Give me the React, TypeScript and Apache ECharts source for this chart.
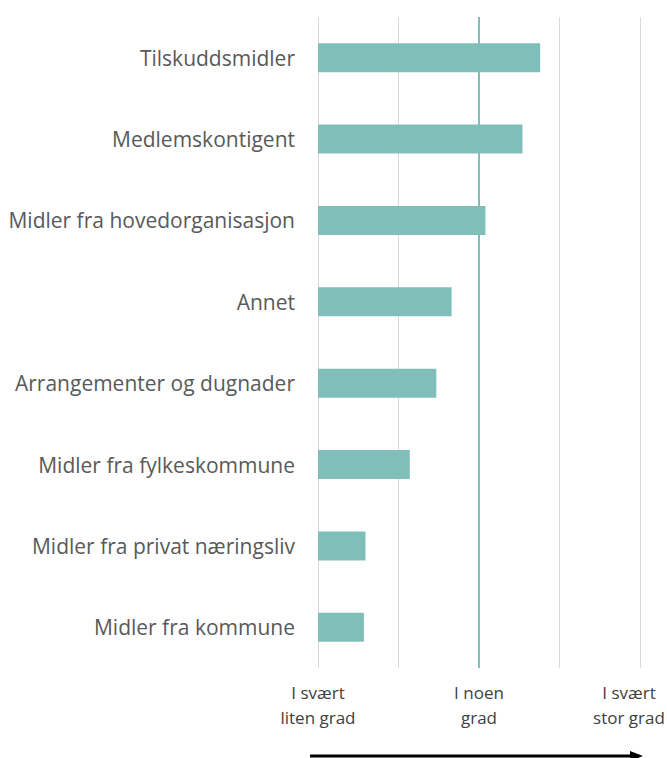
import React, { useEffect, useRef } from "react";
import * as echarts from "echarts";

const categories = [
  "Tilskuddsmidler",
  "Medlemskontigent",
  "Midler fra hovedorganisasjon",
  "Annet",
  "Arrangementer og dugnader",
  "Midler fra fylkeskommune",
  "Midler fra privat næringsliv",
  "Midler fra kommune",
];
const values = [3.76, 3.54, 3.08, 2.66, 2.47, 2.14, 1.59, 1.57];
const tickLabels: Record<number, string> = {
  1: "I svært\nliten grad",
  3: "I noen\ngrad",
  5: "I svært\nstor grad",
};
const referenceValue = 3;

export default function App() {
  const ref = useRef<HTMLDivElement>(null);
  useEffect(() => {
    if (!ref.current) return;
    const chart = echarts.init(ref.current, null, { renderer: "svg" });
    const font = "'Open Sans', sans-serif";
    chart.setOption({
      animation: false,
      backgroundColor: "#ffffff",
      grid: {
        left: 318,
        right: 27,
        top: 17,
        bottom: 90,
        containLabel: false,
        outerBoundsMode: "none",
      },
      xAxis: {
        type: "value",
        min: 1,
        max: 5,
        interval: 1,
        axisLine: { show: false },
        axisTick: { show: false },
        splitLine: { show: true, lineStyle: { color: "#d9d9d9", width: 1 } },
        axisLabel: {
          margin: 12,
          color: "#404040",
          fontFamily: font,
          fontSize: 17,
          lineHeight: 25,
          formatter: (v: number) => {
            const t = tickLabels[v];
            if (!t) return "";
            if (v === 5) return t.split("\n").map((l) => `{r|${l}}`).join("\n");
            return t;
          },
          rich: {
            r: {
              color: "#404040",
              fontFamily: font,
              fontSize: 17,
              lineHeight: 25,
              padding: [0, 22, 0, 0],
            },
          },
        },
      },
      yAxis: {
        type: "category",
        data: categories,
        inverse: true,
        axisLine: { show: false },
        axisTick: { show: false },
        splitLine: { show: false },
        axisLabel: {
          margin: 23,
          color: "#595959",
          fontFamily: font,
          fontSize: 21,
        },
      },
      series: [
        {
          type: "bar",
          data: values,
          barWidth: 29,
          itemStyle: { color: "#80BEB9" },
          markLine: {
            symbol: "none",
            silent: true,
            label: { show: false },
            lineStyle: { color: "#80BEB9", width: 2, type: "solid" },
            data: [{ xAxis: referenceValue }],
          },
        },
      ],
      graphic: [
        {
          type: "line",
          shape: { x1: 310, y1: 756, x2: 632, y2: 756 },
          style: { stroke: "#000000", lineWidth: 3 },
        },
        {
          type: "polygon",
          shape: { points: [[630, 751], [643, 756], [630, 761]] },
          style: { fill: "#000000" },
        },
      ],
    });
    return () => chart.dispose();
  }, []);
  return (
    <div
      ref={ref}
      style={{ position: "fixed", left: 0, top: 0, width: 667, height: 758 }}
    />
  );
}
